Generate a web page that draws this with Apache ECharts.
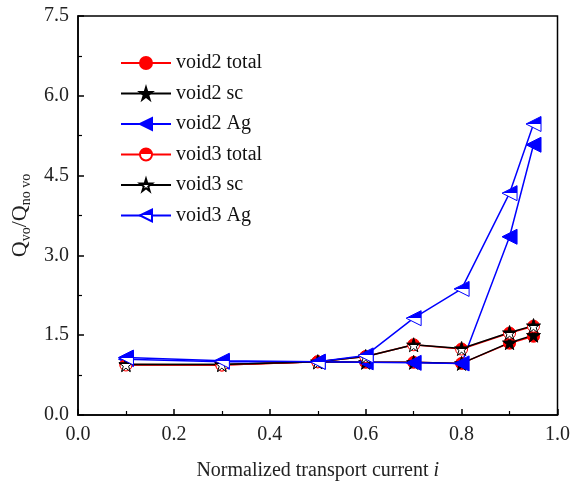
<!DOCTYPE html>
<html><head><meta charset="utf-8">
<script src="https://cdn.jsdelivr.net/npm/echarts@6/dist/echarts.min.js"></script>
<style>html,body{margin:0;padding:0;background:#fff}#c{width:573px;height:487px}</style>
</head><body><div id="c"></div>
<script>
var xValues = [0.1, 0.3, 0.5, 0.6, 0.7, 0.8, 0.9, 0.95];
var void2Total = [0.95, 0.94, 1.0, 0.99, 0.99, 0.97, 1.35, 1.48];
var void2Sc    = [0.95, 0.95, 1.0, 0.99, 0.99, 0.97, 1.36, 1.50];
var void2Ag    = [1.05, 1.00, 1.0, 0.99, 0.98, 0.97, 3.35, 5.08];
var void3Total = [0.94, 0.94, 1.0, 1.10, 1.32, 1.24, 1.54, 1.67];
var void3Sc    = [0.95, 0.95, 1.0, 1.10, 1.32, 1.25, 1.55, 1.68];
var void3Ag    = [1.08, 1.02, 1.0, 1.12, 1.82, 2.37, 4.17, 5.47];
var seriesNames = ['void2 total', 'void2 sc', 'void2 Ag', 'void3 total', 'void3 sc', 'void3 Ag'];
var xTicks = ['0.0', '0.2', '0.4', '0.6', '0.8', '1.0'];
var yTicks = ['0.0', '1.5', '3.0', '4.5', '6.0', '7.5'];

var FONT = '"Liberation Serif", "DejaVu Serif", serif';
var STAR = 'path://M50,0 L61,35 L98,35 L68,57 L79,91 L50,70 L21,91 L32,57 L2,35 L39,35 Z';
var TRI = 'path://M0,50 L100,0 L100,100 Z';
function half(c) {
  return new echarts.graphic.LinearGradient(0, 0, 0, 1, [
    {offset: 0, color: c}, {offset: 0.5, color: c},
    {offset: 0.5, color: '#fff'}, {offset: 1, color: '#fff'}]);
}
function pairs(arr) { return xValues.map(function (x, i) { return [x, arr[i]]; }); }

function mk(name, data, color, symbol, size, filled) {
  return {
    name: name, type: 'line', data: pairs(data),
    symbol: symbol, symbolSize: size, showSymbol: true,
    lineStyle: {color: color, width: 1.5},
    itemStyle: {color: filled ? color : half(color), borderColor: color, borderWidth: 1},
    emphasis: {disabled: true}, animation: false
  };
}

var chart = echarts.init(document.getElementById('c'));
chart.setOption({
  backgroundColor: '#fff',
  animation: false,
  grid: {left: 78, top: 16, right: 14, bottom: 72, show: true, borderColor: '#000', borderWidth: 1.5, backgroundColor: 'transparent'},
  legend: {
    orient: 'vertical', left: 115, top: 48, itemWidth: 50, itemHeight: 15, itemGap: 10.5,
    data: seriesNames,
    textStyle: {fontFamily: FONT, fontSize: 20, color: '#111'}
  },
  xAxis: {
    type: 'value', min: 0, max: 1, interval: 0.2,
    axisLine: {show: true, lineStyle: {color: '#000', width: 1.5}},
    axisTick: {show: true, inside: true, length: 6, lineStyle: {color: '#000', width: 1.5}},
    minorTick: {show: true, splitNumber: 2, length: 4, lineStyle: {color: '#000', width: 1.2}},
    splitLine: {show: false},
    axisLabel: {fontFamily: FONT, fontSize: 20, color: '#222', margin: 10,
      formatter: function (v) { return xTicks[Math.round(v / 0.2)]; }},
    name: 'Normalized transport current {it|i}', nameLocation: 'middle', nameGap: 46,
    nameTextStyle: {fontFamily: FONT, fontSize: 20, color: '#222',
      rich: {it: {fontFamily: FONT, fontSize: 20, fontStyle: 'italic', color: '#222'}}}
  },
  yAxis: {
    type: 'value', min: 0, max: 7.5, interval: 1.5,
    axisLine: {show: true, lineStyle: {color: '#000', width: 1.5}},
    axisTick: {show: true, inside: true, length: 6, lineStyle: {color: '#000', width: 1.5}},
    minorTick: {show: true, splitNumber: 2, length: 4, lineStyle: {color: '#000', width: 1.2}},
    splitLine: {show: false},
    axisLabel: {fontFamily: FONT, fontSize: 20, color: '#222', margin: 9,
      formatter: function (v) { return yTicks[Math.round(v / 1.5)]; }},
    name: '{q|Q}{s|vo}{q|/Q}{s|no vo}', nameLocation: 'middle', nameGap: 38, nameRotate: 90,
    nameTextStyle: {fontFamily: FONT, color: '#222',
      rich: {
        q: {fontFamily: FONT, fontSize: 22, color: '#222', lineHeight: 26, verticalAlign: 'bottom'},
        s: {fontFamily: FONT, fontSize: 14, color: '#222', lineHeight: 26, verticalAlign: 'bottom', padding: [0, 0, -2, 0]}
      }}
  },
  series: [
    mk(seriesNames[0], void2Total, '#ff0000', 'circle', 12, true),
    mk(seriesNames[1], void2Sc, '#000000', STAR, 14, true),
    mk(seriesNames[2], void2Ag, '#0000ff', TRI, 15, true),
    mk(seriesNames[3], void3Total, '#ff0000', 'circle', 12, false),
    mk(seriesNames[4], void3Sc, '#000000', STAR, 14, false),
    mk(seriesNames[5], void3Ag, '#0000ff', TRI, 15, false)
  ]
});
</script></body></html>
